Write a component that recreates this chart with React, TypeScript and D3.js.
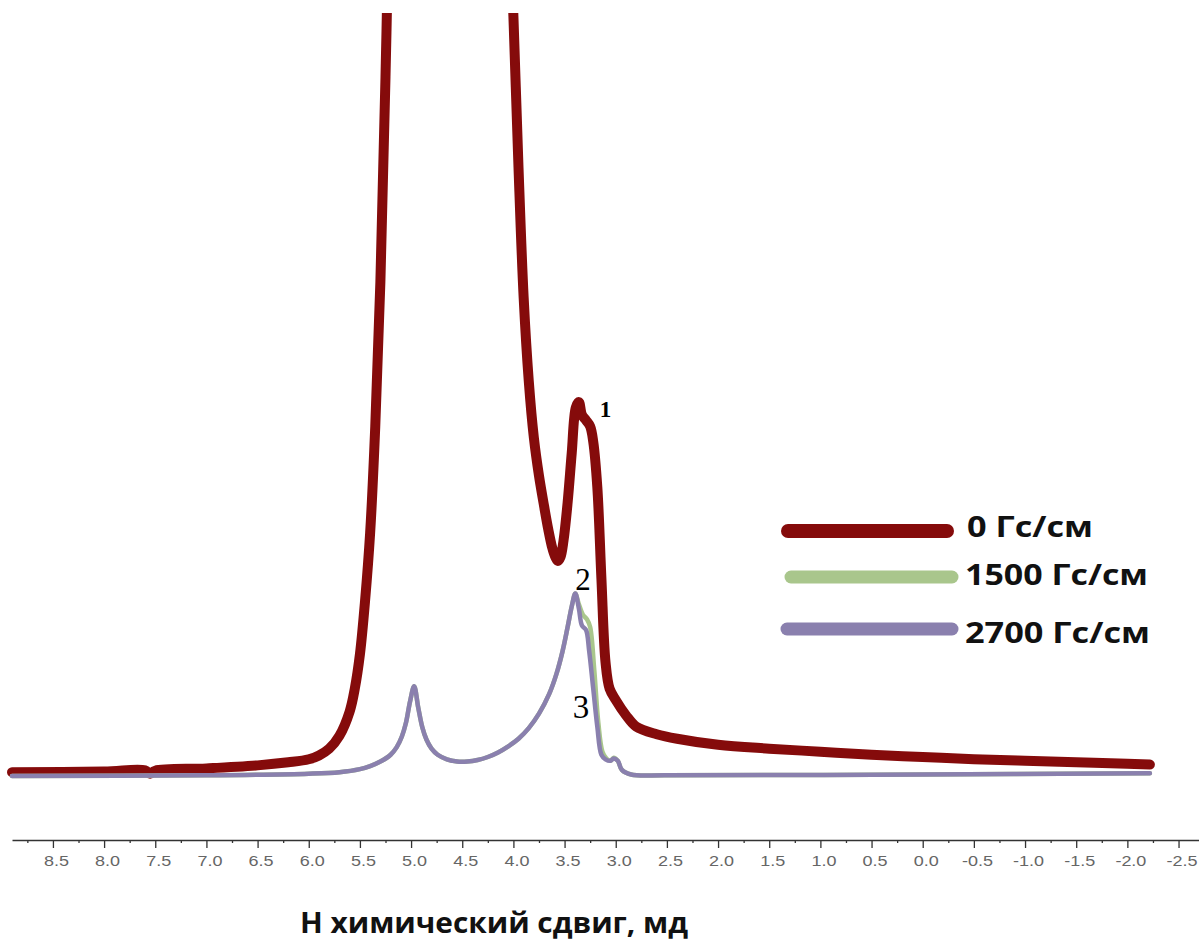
import React, { useEffect, useRef } from "react";
import * as d3 from "d3";

// chemical shift (ppm) and intensity (arb. units)
const shift0 = [8.9, 8.0, 7.6, 7.55, 7.5, 7.0, 6.5, 6.2, 6.0, 5.9, 5.8, 5.7, 5.6, 5.55, 5.5, 5.45, 5.4, 5.35, 5.3, 5.25, 5.2, 5.1, 5.0, 4.8, 4.5, 4.3, 4.15, 4.05, 4.0, 3.95, 3.9, 3.85, 3.8, 3.75, 3.7, 3.66, 3.62, 3.59, 3.565, 3.54, 3.51, 3.47, 3.43, 3.39, 3.36, 3.33, 3.29, 3.25, 3.22, 3.18, 3.14, 3.1, 3.06, 3.0, 2.9, 2.8, 2.6, 2.4, 2.0, 1.5, 1.0, 0.5, 0.0, -0.5, -1.0, -1.5, -2.0, -2.22];
const int0 = [0.5, 0.6, 0.75, 0.3, 0.7, 1.0, 1.4, 1.8, 2.2, 2.7, 3.6, 5.3, 8.5, 11.5, 16, 23, 32, 46, 65, 92, 125, 190, 240, 280, 280, 240, 170, 118, 100, 80, 63, 52, 44.5, 39.5, 35.5, 32.5, 30, 28.8, 28.3, 28.8, 31, 36, 42.5, 48.5, 49.2, 47.5, 46.8, 46, 44, 38, 26, 15, 11.5, 10, 8, 6.5, 5.5, 4.9, 4.1, 3.6, 3.2, 2.8, 2.5, 2.2, 2.0, 1.8, 1.6, 1.5];

const shift1500 = [8.9, 7.0, 6.0, 5.7, 5.5, 5.4, 5.3, 5.2, 5.14, 5.09, 5.05, 5.01, 4.97, 4.93, 4.89, 4.85, 4.8, 4.74, 4.65, 4.55, 4.45, 4.35, 4.25, 4.15, 4.05, 3.95, 3.85, 3.75, 3.65, 3.58, 3.52, 3.47, 3.43, 3.395, 3.36, 3.32, 3.28, 3.25, 3.21, 3.17, 3.13, 3.09, 3.05, 3.02, 2.98, 2.94, 2.85, 2.5, 0.0, -2.22];
const int1500 = [0, 0.1, 0.3, 0.5, 0.9, 1.3, 1.9, 2.8, 3.8, 5.2, 7.0, 9.8, 11.8, 9.0, 6.4, 4.8, 3.6, 2.8, 2.2, 1.9, 1.9, 2.1, 2.5, 3.1, 3.9, 4.9, 6.3, 8.2, 10.8, 13.4, 16.4, 19.6, 22.3, 24, 22.6, 21.2, 20.6, 19.6, 14, 7, 3.2, 2.3, 2.0, 2.4, 2.0, 0.8, 0.2, 0.1, 0.2, 0.35];

const shift2700 = [8.9, 7.0, 6.0, 5.7, 5.5, 5.4, 5.3, 5.2, 5.14, 5.09, 5.05, 5.01, 4.97, 4.93, 4.89, 4.85, 4.8, 4.74, 4.65, 4.55, 4.45, 4.35, 4.25, 4.15, 4.05, 3.95, 3.85, 3.75, 3.65, 3.58, 3.52, 3.47, 3.43, 3.395, 3.36, 3.33, 3.29, 3.26, 3.22, 3.18, 3.14, 3.1, 3.05, 3.02, 2.98, 2.94, 2.85, 2.5, 0.0, -2.22];
const int2700 = [0, 0.1, 0.3, 0.5, 0.9, 1.3, 1.9, 2.8, 3.8, 5.2, 7.0, 9.8, 11.8, 9.0, 6.4, 4.8, 3.6, 2.8, 2.2, 1.9, 1.9, 2.1, 2.5, 3.1, 3.9, 4.9, 6.3, 8.2, 10.8, 13.4, 16.4, 19.6, 22.3, 24, 22, 19.8, 19.2, 16.5, 11.5, 6.5, 2.8, 2.2, 2.0, 2.3, 2.0, 0.8, 0.2, 0.1, 0.2, 0.35];

const seriesNames = ["0 Гс/см", "1500 Гс/см", "2700 Гс/см"];
const seriesColors = ["#850b0b", "#a9c68c", "#8a80ae"];
const seriesWidths = [10, 4.5, 4.5];
const majorTicks = [8.5, 8.0, 7.5, 7.0, 6.5, 6.0, 5.5, 5.0, 4.5, 4.0, 3.5, 3.0, 2.5, 2.0, 1.5, 1.0, 0.5, 0.0, -0.5, -1.0, -1.5, -2.0, -2.5];
const peakLabels = [
  { text: "1", ppm: 3.1, h: 47.2, size: 23, weight: "bold" },
  { text: "2", ppm: 3.32, h: 24.5, size: 31, weight: "normal" },
  { text: "3", ppm: 3.34, h: 7.6, size: 33, weight: "normal" },
];

export default function App() {
  const ref = useRef<SVGSVGElement>(null);

  useEffect(() => {
    const svg = d3.select(ref.current);
    svg.selectAll("*").remove();

    const x = d3.scaleLinear().domain([8.9, -2.7]).range([12, 1199]);
    const y = d3.scaleLinear().domain([0, 100]).range([776, 16]);

    svg.append("defs").append("clipPath").attr("id", "plotclip")
      .append("rect").attr("x", 0).attr("y", 13).attr("width", 1199).attr("height", 820);

    const line = d3.line<[number, number]>()
      .x(d => x(d[0]))
      .y(d => y(d[1]))
      .curve(d3.curveCatmullRom.alpha(0.5));

    const data = [
      d3.zip(shift0, int0),
      d3.zip(shift1500, int1500),
      d3.zip(shift2700, int2700),
    ] as [number, number][][];

    const g = svg.append("g").attr("clip-path", "url(#plotclip)");
    data.forEach((d, i) => {
      g.append("path")
        .datum(d)
        .attr("d", line)
        .attr("fill", "none")
        .attr("stroke", seriesColors[i])
        .attr("stroke-width", seriesWidths[i])
        .attr("stroke-linejoin", "round")
        .attr("stroke-linecap", "round");
    });

    // x axis
    const axisY = 840;
    const ax = svg.append("g").attr("transform", `translate(0,${axisY})`);
    ax.call(d3.axisBottom(x).tickValues(majorTicks).tickSize(8).tickSizeOuter(0).tickFormat(v => (+v).toFixed(1)));
    ax.select(".domain").attr("stroke", "#333").attr("stroke-width", 1.6);
    ax.selectAll(".tick line").attr("stroke", "#333").attr("stroke-width", 1.3);
    ax.selectAll(".tick text")
      .attr("font-family", "Liberation Sans, Arial, sans-serif")
      .attr("font-size", 15)
      .attr("fill", "#666")
      .attr("y", 15)
      .attr("transform", "translate(3,0) scale(1.2,1)");
    const minor = svg.append("g").attr("transform", `translate(0,${axisY})`);
    minor.call(d3.axisBottom(x).tickValues(majorTicks.map(v => v - 0.25).concat([8.75])).tickSize(3).tickSizeOuter(0).tickFormat(() => ""));
    minor.select(".domain").remove();
    minor.selectAll(".tick line").attr("stroke", "#333").attr("stroke-width", 1.3);

    svg.append("text")
      .attr("x", 300)
      .attr("y", 933)
      .attr("font-family", "Open Sans, sans-serif")
      .attr("font-weight", "bold")
      .attr("font-size", 29)
      .attr("textLength", 388)
      .attr("lengthAdjust", "spacingAndGlyphs")
      .attr("fill", "#111")
      .text("Н химический сдвиг, мд");

    // legend
    const legendY = [531, 577, 629];
    const legendBase = [537, 585, 643];
    const legendX = [[788, 947], [791, 952], [787, 952]];
    const legendTextX = [967, 965, 965];
    const legendTextW = [126, 183, 185];
    seriesNames.forEach((name, i) => {
      svg.append("line")
        .attr("x1", legendX[i][0]).attr("x2", legendX[i][1])
        .attr("y1", legendY[i]).attr("y2", legendY[i])
        .attr("stroke", seriesColors[i])
        .attr("stroke-width", i === 0 ? 14 : 13)
        .attr("stroke-linecap", "round");
      svg.append("text")
        .attr("x", legendTextX[i])
        .attr("y", legendBase[i])
        .attr("font-family", "Open Sans, sans-serif")
        .attr("font-weight", "bold")
        .attr("font-size", 28)
        .attr("textLength", legendTextW[i])
        .attr("lengthAdjust", "spacingAndGlyphs")
        .attr("fill", "#111")
        .text(name);
    });

    // peak numbers
    peakLabels.forEach(p => {
      svg.append("text")
        .attr("x", x(p.ppm))
        .attr("y", y(p.h))
        .attr("text-anchor", "middle")
        .attr("font-family", "Liberation Serif, Times New Roman, serif")
        .attr("font-weight", p.weight)
        .attr("font-size", p.size)
        .attr("fill", "#000")
        .text(p.text);
    });
  }, []);

  return (
    <svg ref={ref} width={1199} height={944} style={{ position: "absolute", left: 0, top: 0, background: "#fff" }} />
  );
}
